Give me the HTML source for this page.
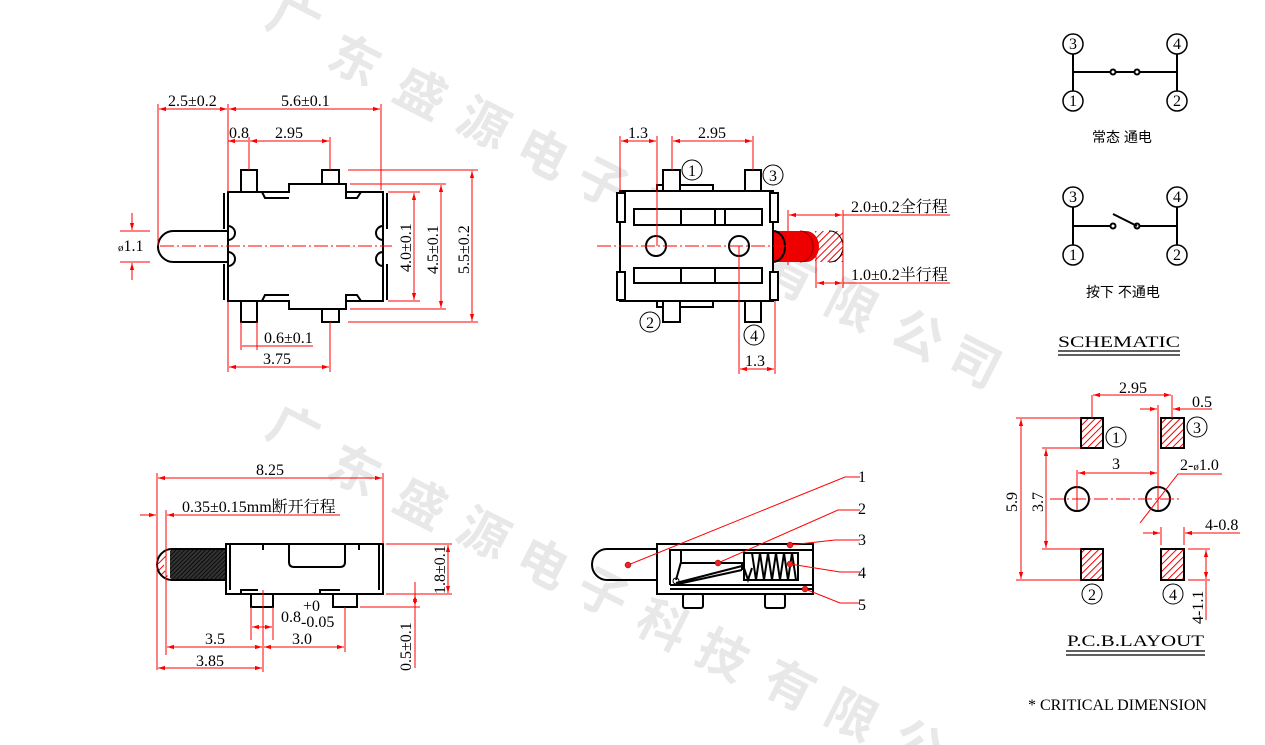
<!DOCTYPE html>
<html><head><meta charset="utf-8"><style>
html,body{margin:0;padding:0;background:#fff}
svg{display:block}
.t{font-family:"Liberation Serif","Noto Serif CJK SC",serif;font-size:16px;fill:#000}
.c{font-family:"Liberation Sans","Noto Sans CJK SC",sans-serif;font-size:14px;fill:#000}
.w{font-family:"Liberation Sans","Noto Sans CJK SC",sans-serif;font-size:50px;font-weight:bold;fill:#e8e8e8}
.r{stroke:#f00;stroke-width:1;fill:none}
.k{stroke:#000;stroke-width:2;fill:none}
.kf{stroke:#000;stroke-width:2;fill:#fff}
.cl{stroke:#f00;stroke-width:1;stroke-dasharray:14 3 2 3;fill:none}
</style></head><body>
<svg width="1265" height="745" viewBox="0 0 1265 745" xmlns="http://www.w3.org/2000/svg">
<defs>
<pattern id="h" width="5" height="5" patternUnits="userSpaceOnUse" patternTransform="rotate(45)"><rect width="5" height="5" fill="#fff"/><line x1="0" y1="0" x2="0" y2="5" stroke="#e00" stroke-width="2"/></pattern>
<pattern id="hd" width="3" height="3" patternUnits="userSpaceOnUse" patternTransform="rotate(45)"><rect width="3" height="3" fill="#333"/><line x1="0" y1="0" x2="0" y2="3" stroke="#000" stroke-width="1.5"/></pattern>
<marker id="a" viewBox="0 0 10 6" refX="10" refY="3" markerWidth="7" markerHeight="5" orient="auto-start-reverse"><path d="M0,0L10,3L0,6z" fill="#f00"/></marker>
</defs>
<g class="w">
<text transform="translate(294,20) rotate(27)" x="-25" y="18">广</text>
<text transform="translate(355,60) rotate(27)" x="-25" y="18">东</text>
<text transform="translate(421,93) rotate(27)" x="-25" y="18">盛</text>
<text transform="translate(484,123) rotate(27)" x="-25" y="18">源</text>
<text transform="translate(543,153) rotate(27)" x="-25" y="18">电</text>
<text transform="translate(603,183) rotate(27)" x="-25" y="18">子</text>
<text transform="translate(663,215) rotate(27)" x="-25" y="18">科</text>
<text transform="translate(723,245) rotate(27)" x="-25" y="18">技</text>
<text transform="translate(790,275) rotate(27)" x="-25" y="18">有</text>
<text transform="translate(852,305) rotate(27)" x="-25" y="18">限</text>
<text transform="translate(918,335) rotate(27)" x="-25" y="18">公</text>
<text transform="translate(975,362) rotate(27)" x="-25" y="18">司</text>
<text transform="translate(294,430) rotate(27)" x="-25" y="18">广</text>
<text transform="translate(355,470) rotate(27)" x="-25" y="18">东</text>
<text transform="translate(421,503) rotate(27)" x="-25" y="18">盛</text>
<text transform="translate(484,533) rotate(27)" x="-25" y="18">源</text>
<text transform="translate(543,563) rotate(27)" x="-25" y="18">电</text>
<text transform="translate(603,593) rotate(27)" x="-25" y="18">子</text>
<text transform="translate(663,625) rotate(27)" x="-25" y="18">科</text>
<text transform="translate(723,655) rotate(27)" x="-25" y="18">技</text>
<text transform="translate(790,685) rotate(27)" x="-25" y="18">有</text>
<text transform="translate(852,715) rotate(27)" x="-25" y="18">限</text>
<text transform="translate(918,745) rotate(27)" x="-25" y="18">公</text>
</g>

<g>
<path class="k" d="M158,246 A15.5,15.5 0 0 1 173.5,231 H228 M158,246 A15.5,15.5 0 0 0 173.5,262 H228"/>
<rect class="kf" x="241" y="170" width="16" height="22"/>
<rect class="kf" x="322" y="170" width="17" height="22"/>
<rect class="kf" x="241" y="301" width="16" height="21"/>
<rect class="kf" x="322" y="301" width="17" height="21"/>
<path class="kf" d="M228,192 H289 V184 H346 V192 H383 V301 H346 V309 H289 V301 H228 Z"/>
<path class="k" stroke-width="1.5" d="M262,192 L265,198 H289 M346,192 V198 H357 L361,192 M262,301 L265,295 H289 M346,301 V295 H357 L361,301"/>
<path class="k" stroke-width="1.5" d="M224,193 V229 M224,264 V300 M387,193 V229 M387,264 V300"/>
<path class="k" stroke-width="1.5" d="M228,226 A7,7 0 0 1 228,240 M228,252 A7,7 0 0 1 228,266 M383,226 A7,7 0 0 0 383,240 M383,252 A7,7 0 0 0 383,266"/>
<line class="cl" x1="160" y1="246" x2="392" y2="246"/>
<path class="r" d="M158,104 V246 M228,104 V192 M381,104 V190 M228,302 V372 M330,322 V372 M249,137 V170 M330,137 V170 M241,322 V350 M257,322 V350"/>
<line class="r" x1="159" y1="109" x2="227" y2="109" marker-start="url(#a)" marker-end="url(#a)"/>
<line class="r" x1="229" y1="109" x2="380" y2="109" marker-start="url(#a)" marker-end="url(#a)"/>
<line class="r" x1="228" y1="141" x2="248" y2="141" marker-start="url(#a)"/>
<line class="r" x1="250" y1="141" x2="329" y2="141" marker-start="url(#a)" marker-end="url(#a)"/>
<line class="r" x1="229" y1="367" x2="329" y2="367" marker-start="url(#a)" marker-end="url(#a)"/>
<line class="r" x1="242" y1="346" x2="256" y2="346"/><line class="r" x1="256" y1="346" x2="313" y2="346"/>
<path class="r" d="M388,192 H420 M350,184 H446 M348,170 H478 M388,301 H420 M350,309 H446 M348,322 H478 M120,231 H150 M120,262 H150"/>
<line class="r" x1="414" y1="193" x2="414" y2="300" marker-start="url(#a)" marker-end="url(#a)"/>
<line class="r" x1="441" y1="185" x2="441" y2="308" marker-start="url(#a)" marker-end="url(#a)"/>
<line class="r" x1="472" y1="171" x2="472" y2="321" marker-start="url(#a)" marker-end="url(#a)"/>
<line class="r" x1="132" y1="213" x2="132" y2="230" marker-end="url(#a)"/>
<line class="r" x1="132" y1="280" x2="132" y2="263" marker-end="url(#a)"/>
<text class="t" x="168" y="106">2.5±0.2</text>
<text class="t" x="281" y="106">5.6±0.1</text>
<text class="t" x="229" y="138">0.8</text>
<text class="t" x="275" y="138">2.95</text>
<text class="t" x="264" y="343">0.6±0.1</text>
<text class="t" x="263" y="364">3.75</text>
<text class="t" x="118" y="251"><tspan font-size="11">ø</tspan>1.1</text>
<text class="t" transform="translate(411,272) rotate(-90)">4.0±0.1</text>
<text class="t" transform="translate(438,274) rotate(-90)">4.5±0.1</text>
<text class="t" transform="translate(469,274) rotate(-90)">5.5±0.2</text>
</g>

<g>
<rect x="815" y="231" width="28" height="31" fill="url(#h)"/>
<path d="M829,231 A14,15.5 0 0 1 829,262 Z" fill="url(#h)"/>
<path d="M829,231 H830 A13,15.5 0 0 1 830,262 H829" fill="none" stroke="#000" stroke-width="1"/>
<path d="M773,231 H806 A13,15.5 0 0 1 806,262 H773 Z" fill="#e00"/>
<path d="M800,231 A13,15.5 0 0 1 800,262" stroke="#900" fill="none"/>
<rect class="kf" x="663" y="170" width="17" height="26"/>
<rect class="kf" x="745" y="170" width="16" height="26"/>
<rect class="kf" x="663" y="297" width="17" height="25"/>
<rect class="kf" x="745" y="298" width="16" height="24"/>
<path class="k" stroke-width="1.5" d="M680,185 H713 V191 M657,191 V185 H663 M680,307 H713 V301 M657,301 V307 H663"/>
<path class="kf" d="M620,191 H773 V301 H620 Z"/>
<path class="k" d="M773,231 A12,15.5 0 0 1 785,246 A12,15.5 0 0 1 773,262" stroke-width="1.5"/>
<rect class="kf" x="617" y="193" width="8" height="29"/><rect class="kf" x="617" y="272" width="8" height="28"/>
<rect class="kf" x="770" y="193" width="8" height="29"/><rect class="kf" x="770" y="272" width="8" height="28"/>
<rect class="k" x="634" y="209" width="128" height="16"/>
<path class="k" d="M681,209 V225 M715,209 V225 M725,209 V225"/>
<rect class="k" x="634" y="268" width="128" height="15"/>
<path class="k" d="M681,268 V283 M715,268 V283"/>
<circle class="k" cx="656" cy="246" r="10"/><circle class="k" cx="739" cy="246" r="10"/>
<line class="cl" x1="597" y1="246" x2="790" y2="246"/>
<g fill="none" stroke="#000" stroke-width="1"><circle cx="692" cy="170" r="10"/><circle cx="773" cy="175" r="10"/><circle cx="650" cy="322" r="10"/><circle cx="754" cy="335" r="10"/></g>
<text class="t" x="688" y="176">1</text><text class="t" x="769" y="181">3</text><text class="t" x="646" y="328">2</text><text class="t" x="750" y="341">4</text>
<path class="r" d="M620,136 V191 M657,136 V246 M672,136 V170 M753,136 V170 M739,246 V374 M775,301 V374 M788,210 V265 M816,246 V288 M843,210 V288 M843,215 H950 M843,283 H950"/>
<line class="r" x1="621" y1="141" x2="656" y2="141" marker-start="url(#a)" marker-end="url(#a)"/>
<line class="r" x1="673" y1="141" x2="752" y2="141" marker-start="url(#a)" marker-end="url(#a)"/>
<line class="r" x1="740" y1="369" x2="774" y2="369" marker-start="url(#a)" marker-end="url(#a)"/>
<line class="r" x1="789" y1="215" x2="842" y2="215" marker-start="url(#a)" marker-end="url(#a)"/>
<line class="r" x1="817" y1="283" x2="842" y2="283" marker-start="url(#a)" marker-end="url(#a)"/>
<text class="t" x="628" y="138">1.3</text>
<text class="t" x="698" y="138">2.95</text>
<text class="t" x="745" y="366">1.3</text>
<text class="t" x="851" y="212">2.0±0.2全行程</text>
<text class="t" x="851" y="280">1.0±0.2半行程</text>
</g>

<g>
<rect x="170" y="549" width="56" height="31" fill="url(#hd)"/>
<path d="M172,549 A15,15.5 0 0 0 172,580 H176 A12,15.5 0 0 1 176,549 Z" fill="url(#h)"/>
<path class="k" stroke-width="1.5" d="M172,549 A15,15.5 0 0 0 172,580"/>
<path class="k" stroke-width="1" d="M172,549 H226 M172,580 H226"/>
<rect class="kf" x="251" y="590" width="22" height="17"/>
<rect class="kf" x="333" y="590" width="24" height="17"/>
<rect class="kf" x="226" y="544" width="157" height="50"/>
<path class="k" stroke-width="1.5" d="M289,544 V562 Q289,567 294,567 H340 Q345,567 345,562 V544 M230,544 V590 M379,544 V590 M241,594 V590 H258 M320,594 V590 H340 M263,544 V550 M359,544 V550"/>
<path class="r" d="M157,473 V670 M166,510 V655 M383,473 V544 M263,590 V672 M345,607 V652 M251,607 V640 M273,607 V640 M386,544 H452 M386,594 H452 M360,607 H420 M415,582 V668"/>
<line class="r" x1="158" y1="478" x2="382" y2="478" marker-start="url(#a)" marker-end="url(#a)"/>
<line class="r" x1="140" y1="515" x2="156" y2="515" marker-end="url(#a)"/>
<line class="r" x1="167" y1="515" x2="340" y2="515" marker-start="url(#a)"/>
<line class="r" x1="167" y1="647" x2="262" y2="647" marker-start="url(#a)" marker-end="url(#a)"/>
<line class="r" x1="264" y1="647" x2="344" y2="647" marker-start="url(#a)" marker-end="url(#a)"/>
<line class="r" x1="158" y1="668" x2="262" y2="668" marker-start="url(#a)" marker-end="url(#a)"/>
<line class="r" x1="252" y1="627" x2="272" y2="627" marker-start="url(#a)" marker-end="url(#a)"/>
<line class="r" x1="448" y1="545" x2="448" y2="593" marker-start="url(#a)" marker-end="url(#a)"/>
<line class="r" x1="415" y1="595" x2="415" y2="606" marker-start="url(#a)" marker-end="url(#a)"/>
<text class="t" x="256" y="475">8.25</text>
<text class="t" x="182" y="512">0.35±0.15mm断开行程</text>
<text class="t" x="205" y="644">3.5</text>
<text class="t" x="292" y="644">3.0</text>
<text class="t" x="196" y="666">3.85</text>
<text class="t" x="281" y="622">0.8</text><text class="t" x="303" y="611" font-size="11">+0</text><text class="t" x="301" y="627" font-size="11">-0.05</text>
<text class="t" transform="translate(445,594) rotate(-90)">1.8±0.1</text>
<text class="t" transform="translate(411,671) rotate(-90)">0.5±0.1</text>
</g>

<g>
<path class="k" d="M657,549 H607 A15,15.5 0 0 0 607,580 H657"/>
<rect class="kf" x="683" y="594" width="20" height="14" rx="2"/>
<rect class="kf" x="765" y="594" width="20" height="14" rx="2"/>
<rect class="kf" x="657" y="544" width="156" height="50"/>
<path class="k" stroke-width="1.5" d="M670,585 V550 H813 M670,585 H813 M670,589 H813"/>
<rect class="k" stroke-width="1.5" x="744" y="553" width="54" height="27"/>
<path class="k" stroke-width="1" d="M681,550 V562 L676,580 M681,563 H742 V570 M676,583 L742,566 M678,584 L742,570 M752,553 L756,580 L760,553 L764,580 L768,553 L772,580 L776,553 L780,580 L784,553 L788,580 L792,553 L796,580"/>
<path class="k" stroke-width="1" d="M744,568 L748,580 L752,568"/>
<circle cx="676" cy="581" r="3" fill="none" stroke="#000"/>
<g stroke="#f00" fill="none" stroke-width="1">
<path d="M628,565 L845,477 H860"/>
<path d="M718,563 L838,510 H860"/>
<path d="M790,545 L835,540 H860"/>
<path d="M790,564 L840,572 H860"/>
<path d="M805,589 L840,603 H860"/>
</g>
<g fill="#e22" stroke="#800" stroke-width="0.5">
<circle cx="628" cy="565" r="3"/><circle cx="718" cy="563" r="3"/><circle cx="790" cy="545" r="3"/><circle cx="790" cy="564" r="3"/><circle cx="805" cy="589" r="3"/>
</g>
<text class="t" font-size="18" x="858" y="482">1</text>
<text class="t" font-size="18" x="858" y="514">2</text>
<text class="t" font-size="18" x="858" y="545">3</text>
<text class="t" font-size="18" x="858" y="578">4</text>
<text class="t" font-size="18" x="858" y="610">5</text>
</g>

<g fill="none" stroke="#000" stroke-width="1.5">
<circle cx="1073" cy="44" r="10"/><circle cx="1177" cy="44" r="10"/><circle cx="1073" cy="101" r="10"/><circle cx="1177" cy="101" r="10"/>
<path d="M1073,54 V91 M1177,54 V91 M1073,72 H1110 M1116,72 H1134 M1140,72 H1177" stroke-width="2"/>
<circle cx="1113" cy="72" r="2.5" stroke-width="2"/><circle cx="1137" cy="72" r="2.5" stroke-width="2"/>
<circle cx="1073" cy="197" r="10"/><circle cx="1177" cy="197" r="10"/><circle cx="1073" cy="255" r="10"/><circle cx="1177" cy="255" r="10"/>
<path d="M1073,207 V245 M1177,207 V245 M1073,226 H1110 M1140,226 H1177 M1113,214 L1137,226" stroke-width="2"/>
<circle cx="1113" cy="226" r="2.5" stroke-width="2"/><circle cx="1137" cy="226" r="2.5" stroke-width="2"/>
<path d="M1058,351 H1180 M1058,355 H1180" stroke-width="1.2"/>
</g>
<g class="t" font-size="15">
<text x="1069" y="49">3</text><text x="1173" y="49">4</text><text x="1069" y="106">1</text><text x="1173" y="106">2</text>
<text x="1069" y="202">3</text><text x="1173" y="202">4</text><text x="1069" y="260">1</text><text x="1173" y="260">2</text>
</g>
<text class="c" x="1092" y="142">常态  通电</text>
<text class="c" x="1086" y="297">按下  不通电</text>
<text class="t" font-size="22" x="1058" y="347" textLength="122" lengthAdjust="spacingAndGlyphs">SCHEMATIC</text>

<g>
<rect x="1081" y="418" width="22" height="30" fill="url(#h)" stroke="#000" stroke-width="2"/>
<rect x="1161" y="418" width="23" height="30" fill="url(#h)" stroke="#000" stroke-width="2"/>
<rect x="1081" y="549" width="22" height="31" fill="url(#h)" stroke="#000" stroke-width="2"/>
<rect x="1161" y="549" width="23" height="31" fill="url(#h)" stroke="#000" stroke-width="2"/>
<circle class="k" cx="1077" cy="499" r="12"/><circle class="k" cx="1158" cy="499" r="12"/>
<line class="cl" x1="1050" y1="499" x2="1182" y2="499"/>
<g fill="none" stroke="#000" stroke-width="1"><circle cx="1116" cy="437" r="10"/><circle cx="1197" cy="427" r="10"/><circle cx="1092" cy="594" r="10"/><circle cx="1173" cy="594" r="10"/></g>
<g class="t"><text x="1112" y="443">1</text><text x="1193" y="433">3</text><text x="1088" y="600">2</text><text x="1169" y="600">4</text></g>
<path class="r" d="M1092,395 V418 M1172,395 V418 M1158,405 V510 M1077,470 V510 M1016,418 H1081 M1016,580 H1081 M1042,448 H1081 M1042,549 H1081 M1161,527 V545 M1184,527 V545 M1188,549 H1210 M1188,580 H1210 M1140,523 L1178,474 H1222"/>
<line class="r" x1="1093" y1="395" x2="1171" y2="395" marker-start="url(#a)" marker-end="url(#a)"/>
<line class="r" x1="1140" y1="409" x2="1157" y2="409" marker-end="url(#a)"/>
<line class="r" x1="1212" y1="409" x2="1173" y2="409" marker-end="url(#a)"/>
<line class="r" x1="1078" y1="473" x2="1157" y2="473" marker-start="url(#a)" marker-end="url(#a)"/>
<line class="r" x1="1021" y1="419" x2="1021" y2="579" marker-start="url(#a)" marker-end="url(#a)"/>
<line class="r" x1="1046" y1="449" x2="1046" y2="548" marker-start="url(#a)" marker-end="url(#a)"/>
<line class="r" x1="1143" y1="533" x2="1160" y2="533" marker-end="url(#a)"/>
<line class="r" x1="1240" y1="533" x2="1185" y2="533" marker-end="url(#a)"/>
<line class="r" x1="1206" y1="550" x2="1206" y2="579" marker-start="url(#a)" marker-end="url(#a)"/>
<line class="r" x1="1206" y1="581" x2="1206" y2="620"/>
<text class="t" x="1119" y="393">2.95</text>
<text class="t" x="1192" y="407">0.5</text>
<text class="t" x="1112" y="469">3</text>
<text class="t" x="1180" y="470">2-<tspan font-size="11">ø</tspan>1.0</text>
<text class="t" x="1205" y="530">4-0.8</text>
<text class="t" transform="translate(1017,512) rotate(-90)">5.9</text>
<text class="t" transform="translate(1043,512) rotate(-90)">3.7</text>
<text class="t" transform="translate(1203,624) rotate(-90)">4-1.1</text>
<text class="t" font-size="22" x="1067" y="646" textLength="137" lengthAdjust="spacingAndGlyphs">P.C.B.LAYOUT</text>
<path d="M1066,651 H1205 M1066,655 H1205" stroke="#000" stroke-width="1.2"/>
</g>
<text class="t" x="1028" y="710">* CRITICAL  DIMENSION</text>
</svg>
</body></html>
